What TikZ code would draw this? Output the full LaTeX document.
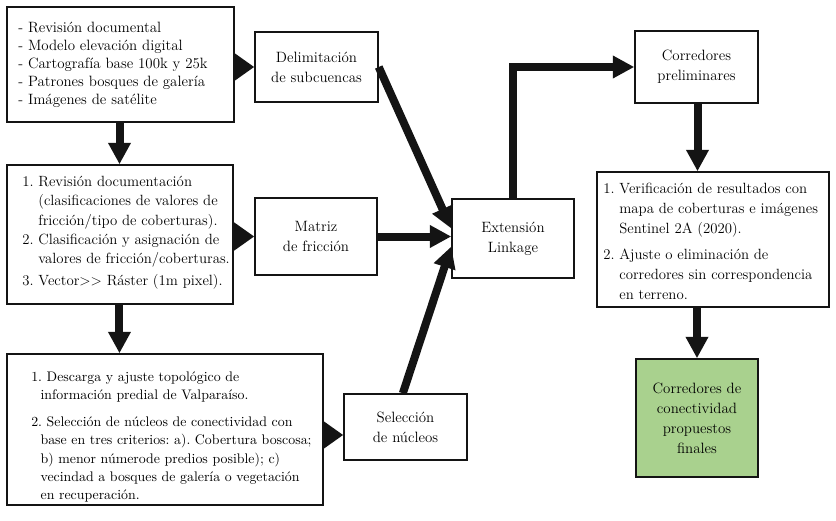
\documentclass[tikz,border=0pt]{standalone}
\usepackage{fontspec}
\usetikzlibrary{arrows.meta,calc}
\definecolor{finalgreen}{RGB}{169,209,142}
\definecolor{inkblack}{RGB}{20,20,20}
\newcommand{\ind}{\phantom{1.~}}
\newcommand{\indc}{\hspace*{7pt}}
\begin{document}
\frenchspacing
\begin{tikzpicture}[x=0.75pt,y=-0.75pt,
  box/.style={draw=inkblack, line width=1.1pt, inner sep=0pt, fill=white},
  smalltxt/.style={align=center, text=black, font=\frenchspacing\fontsize{11.2}{15}\selectfont},
  listtxt/.style={align=left, inner sep=0pt, anchor=west, text=black},
  flow/.style={draw=inkblack, line width=6pt, line join=miter, -{Triangle[length=16pt,width=16pt]}},
  side/.style={draw=inkblack, line width=6pt, -{Triangle[length=15.75pt,width=21pt]}}
]
\useasboundingbox[fill=white] (0,0) rectangle (836,521);

% boxes
\node[box, minimum width=170.25pt, minimum height=86.25pt] (src) at (120.5,64.5) {};
\node[listtxt, font=\frenchspacing\fontsize{11.2}{13.5}\selectfont] (srctxt) at (18,64.5)
  {- Revisión documental\\- Modelo elevación digital\\- Cartografía base 100k y 25k\\- Patrones bosques de galería\\- Imágenes de satélite};

\node[box, smalltxt, minimum width=92.25pt, minimum height=52.5pt] (del) at (316.5,67) {Delimitación\\de subcuencas};

\node[box, minimum width=169.5pt, minimum height=104.25pt] (fric) at (120,234.5) {};
\node[listtxt, font=\frenchspacing\fontsize{11.1}{14.5}\selectfont] (frictxt) at (22,233)
  {1.~Revisión documentación\\\ind(clasificaciones de valores de\\\ind fricción/tipo de coberturas).\\2.~Clasificación y asignación de\\\ind valores de fricción/coberturas.\\[2pt]3.~Vector>{}> Ráster (1m pixel).};

\node[box, smalltxt, minimum width=91.5pt, minimum height=57.75pt] (mat) at (316,236.5) {Matriz\\de fricción};

\node[box, minimum width=237pt, minimum height=113.25pt] (nuc) at (165,429.5) {};
\node[listtxt, font=\frenchspacing\fontsize{10.4}{13.7}\selectfont] (nuctxt) at (31,437)
  {1.~Descarga y ajuste topológico de\\\indc información predial de Valparaíso.\\[6.5pt]2.~Selección de núcleos de conectividad con\\\indc base en tres criterios: a). Cobertura boscosa;\\\indc b) menor númerode predios posible); c)\\\indc vecindad a bosques de galería o vegetación\\\indc en recuperación.};

\node[box, smalltxt, minimum width=92.25pt, minimum height=49.5pt] (sel) at (405.5,427) {Selección\\de núcleos};

\node[box, smalltxt, minimum width=91.5pt, minimum height=59.25pt] (ext) at (513,238.5) {Extensión\\Linkage};

\node[box, smalltxt, minimum width=92.25pt, minimum height=54pt] (pre) at (696.5,67) {Corredores\\preliminares};

\node[box, minimum width=174pt, minimum height=101.25pt] (ver) at (713,239.5) {};
\node[listtxt, font=\frenchspacing\fontsize{11.1}{15}\selectfont] (vertxt) at (603,241.5)
  {1.~Verificación de resultados con\\\ind mapa de coberturas e imágenes\\\ind Sentinel 2A (2020).\\[5pt]2.~Ajuste o eliminación de\\\ind corredores sin correspondencia\\\ind en terreno.};

\node[box, smalltxt, fill=finalgreen, minimum width=91.5pt, minimum height=88.5pt] (fin) at (697,418) {Corredores de\\conectividad\\propuestos\\finales};

% connector anchor points
\coordinate (selin) at ([yshift=-6pt]sel.west);
\coordinate (selout) at ([xshift=-2pt]sel.north);
\coordinate (extin1) at ([yshift=7.5pt]ext.west);
\coordinate (extin3) at ([yshift=-6pt]ext.west);
\coordinate (srcout) at ([xshift=-0.75pt]src.south);
\coordinate (fricout) at ([xshift=-0.4pt]fric.south);
\coordinate (preout) at ([xshift=0.75pt]pre.south);

% connectors
\draw[side] (src.east |- del.west) -- (del.west);
\draw[side] (fric.east |- mat.west) -- (mat.west);
\draw[side] (nuc.east |- selin) -- (selin);

\draw[flow] (srcout) -- (srcout |- fric.north);
\draw[flow] (fricout) -- (fricout |- nuc.north);

\draw[flow] (del.east) -- (extin1);
\draw[flow] (mat.east) -- (mat.east -| ext.west);
\draw[flow] (selout) -- (extin3);

\draw[flow] (ext.north) |- (pre.west);
\draw[flow] (preout) -- (preout |- ver.north);
\draw[flow] (fin.north |- ver.south) -- (fin.north);
\end{tikzpicture}
\end{document}
